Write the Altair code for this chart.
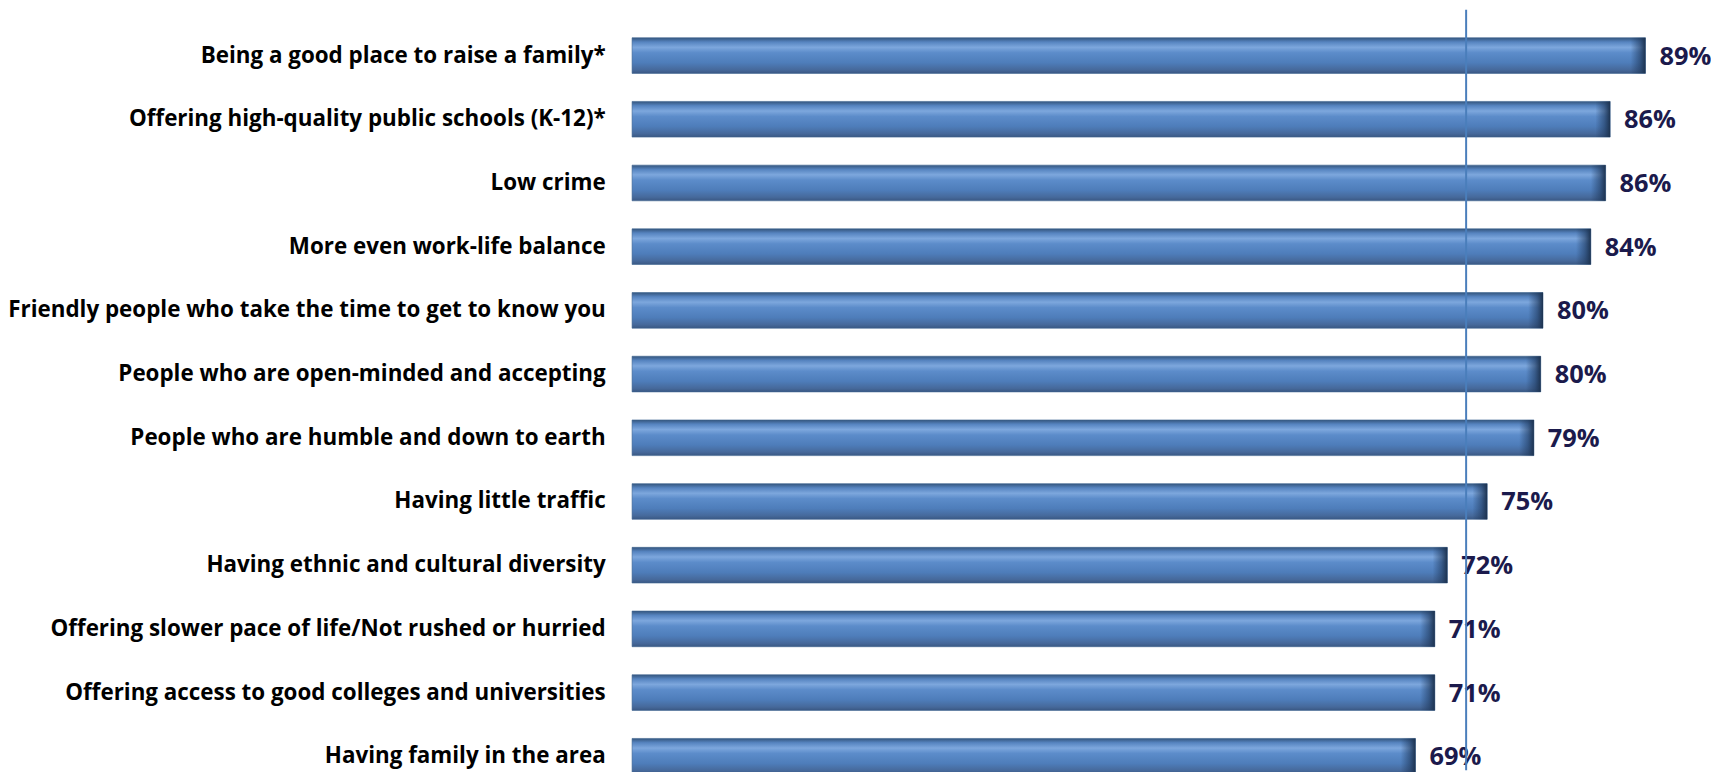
import altair as alt
import pandas as pd

categories = [
    "Being a good place to raise a family*",
    "Offering high-quality public schools (K-12)*",
    "Low crime",
    "More even work-life balance",
    "Friendly people who take the time to get to know you",
    "People who are open-minded and accepting",
    "People who are humble and down to earth",
    "Having little traffic",
    "Having ethnic and cultural diversity",
    "Offering slower pace of life/Not rushed or hurried",
    "Offering access to good colleges and universities",
    "Having family in the area",
]
values = [89.0, 85.9, 85.5, 84.2, 80.0, 79.8, 79.2, 75.1, 71.6, 70.5, 70.5, 68.8]
value_labels = ["89%", "86%", "86%", "84%", "80%", "80%", "79%", "75%", "72%", "71%", "71%", "69%"]
reference_line = [73.25]

df = pd.DataFrame({"cat": categories, "val": values, "lab": value_labels})
ref_df = pd.DataFrame({"ref": reference_line})

PAD_L = 627
W = 1711 - PAD_L - 8
H = 764

x_scale = alt.Scale(domain=[0, W / 11.44], nice=False, zero=True)
y_scale = alt.Scale(domain=categories, range=[14, 782], paddingInner=0.44, paddingOuter=0.22)

bar_grad = alt.Gradient(
    gradient="linear", x1=0, x2=0, y1=0, y2=1,
    stops=[
        alt.GradientStop(color="#34557d", offset=0.0),
        alt.GradientStop(color="#5684c0", offset=0.12),
        alt.GradientStop(color="#7da7dd", offset=0.27),
        alt.GradientStop(color="#5c8cca", offset=0.42),
        alt.GradientStop(color="#4e7dba", offset=0.7),
        alt.GradientStop(color="#46699b", offset=0.9),
        alt.GradientStop(color="#3a5883", offset=1.0),
    ],
)

base = alt.Chart(df)

bars = base.mark_bar(color=bar_grad, stroke="#3f6592", strokeWidth=0.6).encode(
    y=alt.Y("cat:N", scale=y_scale, sort=categories, title=None,
            axis=alt.Axis(labelFont="Open Sans", labelFontWeight="bold", labelFontSize=22.5,
                          labelColor="#000000", ticks=False, tickSize=0, domain=False,
                          labelPadding=27, labelLimit=700, grid=False)),
    x=alt.X("val:Q", scale=x_scale, axis=None),
)

bevel_grad = alt.Gradient(
    gradient="linear", x1=0, x2=1, y1=0, y2=0,
    stops=[
        alt.GradientStop(color="rgba(30,55,90,0)", offset=0.0),
        alt.GradientStop(color="rgba(30,55,90,0.55)", offset=0.6),
        alt.GradientStop(color="#1d3350", offset=1.0),
    ],
)

bevel = base.transform_calculate(start="datum.val - 1.3").mark_bar(color=bevel_grad).encode(
    y=alt.Y("cat:N", scale=y_scale, sort=categories),
    x=alt.X("start:Q", scale=x_scale),
    x2="val:Q",
)

text = base.mark_text(align="left", baseline="middle", dx=14, dy=1, font="Open Sans",
                      fontWeight="bold", fontSize=25.5, color="#1b1a4c").encode(
    y=alt.Y("cat:N", scale=y_scale, sort=categories),
    x=alt.X("val:Q", scale=x_scale),
    text="lab:N",
)

rule = alt.Chart(ref_df).mark_rule(color="#4a7ebb", strokeWidth=2).encode(
    x=alt.X("ref:Q", scale=x_scale),
    y=alt.value(0),
    y2=alt.value(H),
)

chart = alt.layer(bars, bevel, text, rule).properties(
    width=W, height=H,
    background="white",
    autosize=alt.AutoSizeParams(type="none"),
    padding={"left": PAD_L, "top": 0, "right": 8, "bottom": 0},
).configure_view(stroke=None, strokeWidth=0)

chart.save("out.html", embed_options={"renderer": "svg", "actions": False})
